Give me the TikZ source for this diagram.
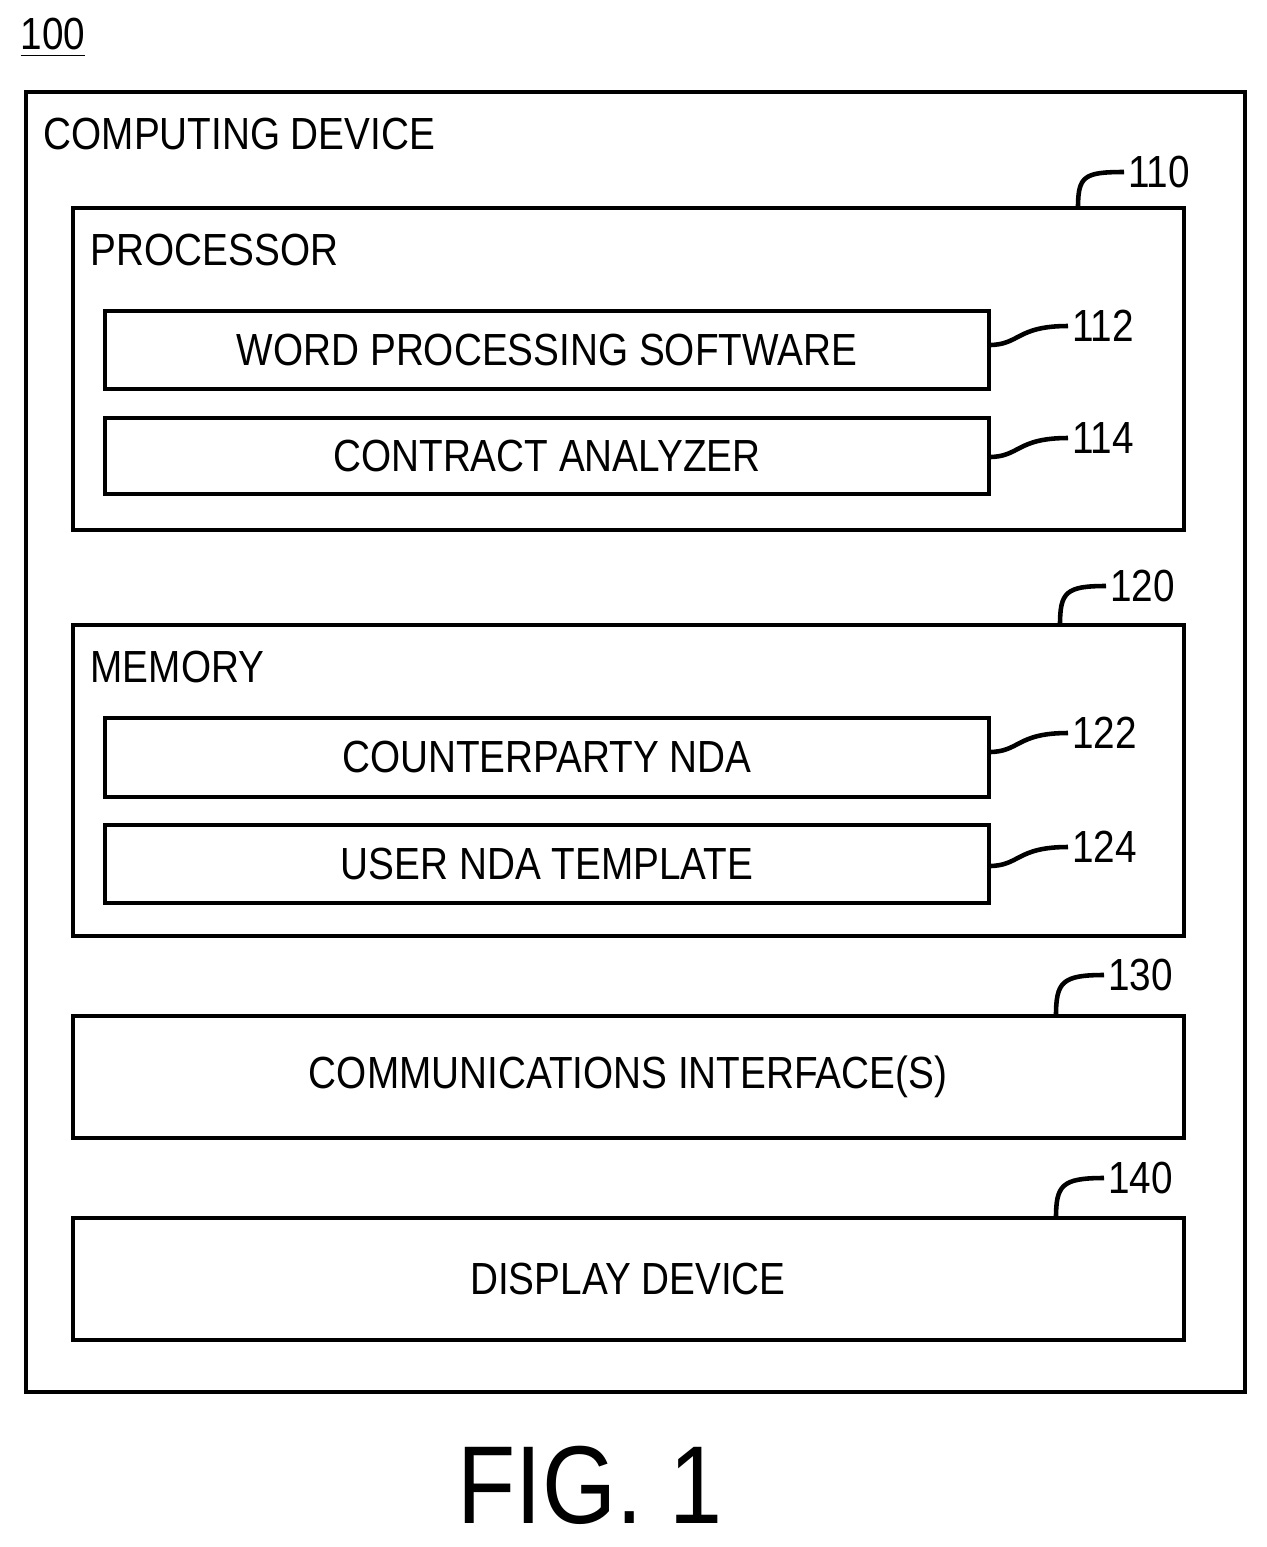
\documentclass[tikz,border=0pt]{standalone}
\usepackage{fontspec}
\setmainfont{Liberation Sans}[FakeStretch=0.86]
\usetikzlibrary{positioning}

\begin{document}
\begin{tikzpicture}[
    x=0.01cm,y=-0.01cm,
    box/.style={draw,line width=1.4pt,inner sep=0pt},
    lbl/.style={font=\fontsize{12.8}{15}\selectfont},
    num/.style={font=\fontsize{12.8}{15}\selectfont,anchor=west,inner sep=1pt},
    lead/.style={line width=1.3pt}
  ]
  \useasboundingbox (0,0) rectangle (1267,1547);

  % outer device
  \draw[box] (26,92) rectangle (1245,1392);
  \node[lbl,anchor=west,inner sep=0pt] (devlbl) at (43,134) {COMPUTING DEVICE};
  \node[lbl,anchor=west,inner sep=0pt] (fignum) at (20,38) {\underline{100}};

  % processor
  \draw[box] (73,208) rectangle (1184,530);
  \node[lbl,anchor=west,inner sep=0pt] (proclbl) at (90,250) {PROCESSOR};
  \draw[box] (105,311) rectangle (989,389);
  \node[lbl] (wps) at (547,350) {WORD PROCESSING SOFTWARE};
  \draw[box] (105,418) rectangle (989,494);
  \node[lbl] (ca) at (547,456) {CONTRACT ANALYZER};

  % memory
  \draw[box] (73,625) rectangle (1184,936);
  \node[lbl,anchor=west,inner sep=0pt] (memlbl) at (90,667) {MEMORY};
  \draw[box] (105,718) rectangle (989,797);
  \node[lbl] (cn) at (547,757) {COUNTERPARTY NDA};
  \draw[box] (105,825) rectangle (989,903);
  \node[lbl] (unt) at (547,864) {USER NDA TEMPLATE};

  % interfaces and display
  \draw[box] (73,1016) rectangle (1184,1138);
  \node[lbl] (comm) at (628,1077) {COMMUNICATIONS INTERFACE(S)};
  \draw[box] (73,1218) rectangle (1184,1340);
  \node[lbl] (disp) at (628,1279) {DISPLAY DEVICE};

  % reference numerals
  \node[num] (n110) at (1124,172) {110};
  \draw[lead] (1078,208) .. controls (1078,176) and (1084,172) .. (n110.west);
  \node[num] (n112) at (1068,326) {112};
  \draw[lead] (989,345) .. controls (1020,345) and (1016,326) .. (n112.west);
  \node[num] (n114) at (1068,438) {114};
  \draw[lead] (989,457) .. controls (1020,457) and (1016,438) .. (n114.west);
  \node[num] (n120) at (1106,586) {120};
  \draw[lead] (1060,625) .. controls (1060,592) and (1066,586) .. (n120.west);
  \node[num] (n122) at (1068,733) {122};
  \draw[lead] (989,752) .. controls (1020,752) and (1016,733) .. (n122.west);
  \node[num] (n124) at (1068,847) {124};
  \draw[lead] (989,866) .. controls (1020,866) and (1016,847) .. (n124.west);
  \node[num] (n130) at (1104,975) {130};
  \draw[lead] (1056,1016) .. controls (1056,982) and (1062,975) .. (n130.west);
  \node[num] (n140) at (1104,1178) {140};
  \draw[lead] (1056,1218) .. controls (1056,1185) and (1062,1178) .. (n140.west);

  \node[font=\fontsize{31.5}{38}\selectfont] (fig) at (590,1485) {FIG. 1};
\end{tikzpicture}
\end{document}
